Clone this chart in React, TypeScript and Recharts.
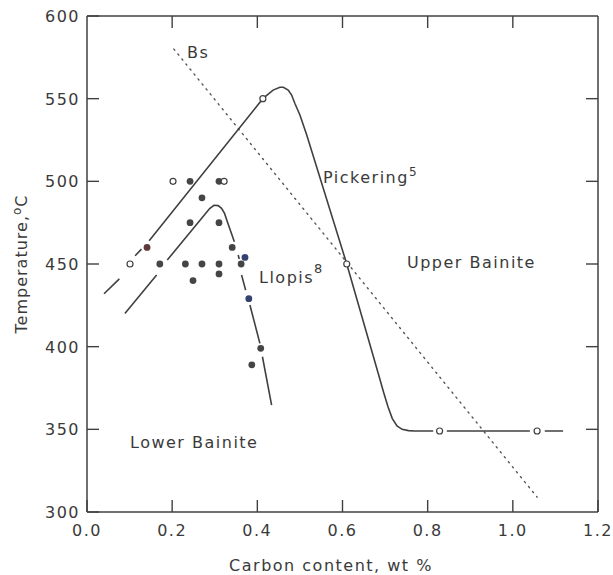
import React from 'react';
import { ComposedChart, Line, Scatter, XAxis, YAxis } from 'recharts';

// ---- axis ticks ----
const xTicks = [0, 0.2, 0.4, 0.6, 0.8, 1.0, 1.2];
const yTicks = [300, 350, 400, 450, 500, 550, 600];
const topTicks = [0.2, 0.4, 0.6, 0.8, 1.0];
const rightTicks = [350, 400, 450, 500, 550];

// ---- Pickering curve (segments, gaps between) ----
const pickeringSegments: number[][][] = [
  [[0.04, 432], [0.076, 441]],
  [[0.113, 455], [0.128, 459]],
  [
    [0.146, 464], [0.413, 550], [0.422, 552], [0.437, 555.2], [0.453, 556.9],
    [0.461, 556.9], [0.4725, 555.2], [0.4805, 552.2], [0.488, 547.2], [0.5, 540.1],
    [0.516, 528], [0.61, 450], [0.686, 382], [0.697, 372], [0.707, 363.5],
    [0.717, 356.5], [0.728, 352], [0.74, 350], [0.755, 349.2], [0.77, 349],
    [0.813, 349],
  ],
  [[0.845, 349], [1.04, 349]],
  [[1.075, 349], [1.118, 349]],
];

// ---- Llopis curve ----
const llopisSegments: number[][][] = [
  [[0.089, 420], [0.1635, 443.3]],
  [
    [0.1885, 452.4], [0.278, 480.4], [0.288, 483.5], [0.298, 485.5], [0.308, 485.3],
    [0.316, 483.7], [0.323, 480.6], [0.329, 476], [0.346, 463.5],
  ],
  [[0.355, 455.4], [0.3575, 453]],
  [[0.363, 443.3], [0.3725, 434.2]],
  [[0.3826, 425.2], [0.406, 402]],
  [[0.412, 393.9], [0.4335, 364.7]],
];

// ---- Bs line ----
const bsLine: number[][] = [[0.204, 580], [1.057, 309]];

// ---- experimental points ----
const filledDots: number[][] = [
  [0.242, 500], [0.31, 500], [0.27, 490], [0.242, 475], [0.31, 475],
  [0.341, 460], [0.171, 450], [0.231, 450], [0.27, 450], [0.31, 450],
  [0.362, 450], [0.31, 444], [0.249, 440], [0.408, 399], [0.387, 389],
];
const redDots: number[][] = [[0.141, 460]];
const blueDots: number[][] = [[0.371, 454], [0.38, 429]];
const openDots: number[][] = [
  [0.101, 450], [0.202, 500], [0.322, 500], [0.413, 550], [0.61, 450],
  [0.828, 349], [1.057, 349],
];

const toLineData = (segs: number[][][]) =>
  segs.flatMap((seg, i) => {
    const pts = seg.map(([x, y]) => ({ x, y }));
    return i < segs.length - 1 ? [...pts, { x: seg[seg.length - 1][0] + 0.0001, y: null }] : pts;
  });
const toPts = (arr: number[][]) => arr.map(([x, y]) => ({ x, y }));

const INK = '#404040';
const TEXT = '#3a3a3a';
const FONT = '"DejaVu Sans", Verdana, sans-serif';

const BottomTick = (props: any) => {
  const { x, y, payload } = props;
  return (
    <g>
      <line x1={x} y1={y} x2={x} y2={y - 12} stroke={INK} strokeWidth={1.4} />
      <text x={x} y={y + 24} textAnchor="middle" fontSize={16} letterSpacing={1.5}
        fontFamily={FONT} fill={TEXT}>{Number(payload.value).toFixed(1)}</text>
    </g>
  );
};
const LeftTick = (props: any) => {
  const { x, y, payload } = props;
  return (
    <g>
      <line x1={x} y1={y} x2={x + 12} y2={y} stroke={INK} strokeWidth={1.4} />
      <text x={x - 7} y={y + 6} textAnchor="end" fontSize={16} letterSpacing={1.5}
        fontFamily={FONT} fill={TEXT}>{payload.value}</text>
    </g>
  );
};
const TopTick = (props: any) => {
  const { x, y } = props;
  return <line x1={x} y1={y} x2={x} y2={y + 12} stroke={INK} strokeWidth={1.4} />;
};
const RightTick = (props: any) => {
  const { x, y } = props;
  return <line x1={x} y1={y} x2={x - 12} y2={y} stroke={INK} strokeWidth={1.4} />;
};

const dotShape = (color: string) => (props: any) =>
  <circle cx={props.cx} cy={props.cy} r={3.4} fill={color} />;
const openShape = (props: any) => (
  <g>
    <circle cx={props.cx} cy={props.cy} r={3} fill="#fff" stroke={INK} strokeWidth={1.2} />
  </g>
);

const axisLine = { stroke: INK, strokeWidth: 1.5 };

export default function App() {
  return (
    <div style={{ position: 'absolute', left: 0, top: 0, width: 613, height: 575, background: '#fff' }}>
      <ComposedChart width={613} height={575} margin={{ top: 0, right: 0, bottom: 0, left: 0 }}>
        <XAxis xAxisId="bottom" dataKey="x" type="number" domain={[0, 1.2]} ticks={xTicks}
          interval={0} height={63} orientation="bottom" tickSize={0} tickMargin={0}
          tickLine={false} axisLine={axisLine} tick={BottomTick} allowDataOverflow />
        <XAxis xAxisId="top" dataKey="x" type="number" domain={[0, 1.2]} ticks={topTicks}
          interval={0} height={16} orientation="top" tickSize={0} tickMargin={0}
          tickLine={false} axisLine={axisLine} tick={TopTick} allowDataOverflow />
        <YAxis yAxisId="left" dataKey="y" type="number" domain={[300, 600]} ticks={yTicks}
          interval={0} width={87} orientation="left" tickSize={0} tickMargin={0}
          tickLine={false} axisLine={axisLine} tick={LeftTick} allowDataOverflow />
        <YAxis yAxisId="right" dataKey="y" type="number" domain={[300, 600]} ticks={rightTicks}
          interval={0} width={15} orientation="right" tickSize={0} tickMargin={0}
          tickLine={false} axisLine={axisLine} tick={RightTick} allowDataOverflow />

        <Line xAxisId="bottom" yAxisId="left" data={toPts(bsLine)} dataKey="y" type="linear"
          stroke="#555" strokeWidth={1.4} strokeDasharray="1.4 5" strokeLinecap="round"
          dot={false} activeDot={false} isAnimationActive={false} />
        <Line xAxisId="bottom" yAxisId="left" data={toLineData(pickeringSegments)} dataKey="y"
          type="linear" stroke={INK} strokeWidth={1.6} dot={false} activeDot={false}
          connectNulls={false} isAnimationActive={false} />
        <Line xAxisId="bottom" yAxisId="left" data={toLineData(llopisSegments)} dataKey="y"
          type="linear" stroke={INK} strokeWidth={1.6} dot={false} activeDot={false}
          connectNulls={false} isAnimationActive={false} />

        <Scatter xAxisId="bottom" yAxisId="left" data={toPts(filledDots)} dataKey="y"
          shape={dotShape('#454545')} isAnimationActive={false} />
        <Scatter xAxisId="bottom" yAxisId="left" data={toPts(redDots)} dataKey="y"
          shape={dotShape('#5e3a3a')} isAnimationActive={false} />
        <Scatter xAxisId="bottom" yAxisId="left" data={toPts(blueDots)} dataKey="y"
          shape={dotShape('#34426e')} isAnimationActive={false} />
        <Scatter xAxisId="bottom" yAxisId="left" data={toPts(openDots)} dataKey="y"
          shape={openShape} isAnimationActive={false} />
      </ComposedChart>

      <svg width={613} height={575} style={{ position: 'absolute', left: 0, top: 0, pointerEvents: 'none' }}
        fontFamily={FONT} fill={TEXT}>
        <text x={187} y={58} fontSize={16} letterSpacing={1.5}>Bs</text>
        <text x={323} y={183} fontSize={16} letterSpacing={1.5}>
          Pickering<tspan fontSize={12} dy={-7}>5</tspan>
        </text>
        <text x={259} y={283} fontSize={16} letterSpacing={1.5}>
          Llopis<tspan fontSize={13} dy={-10}>8</tspan>
        </text>
        <text x={407} y={268} fontSize={16} letterSpacing={1.5}>Upper Bainite</text>
        <text x={130} y={448} fontSize={16} letterSpacing={1.5}>Lower Bainite</text>
        <text x={331} y={571} fontSize={16} letterSpacing={1.5} textAnchor="middle">Carbon content, wt %</text>
        <text x={27} y={264} fontSize={16} letterSpacing={1} textAnchor="middle"
          transform="rotate(-90 27 264)">Temperature,<tspan fontSize={12} dy={-6}>o</tspan><tspan dy={6}>C</tspan></text>
      </svg>
    </div>
  );
}
